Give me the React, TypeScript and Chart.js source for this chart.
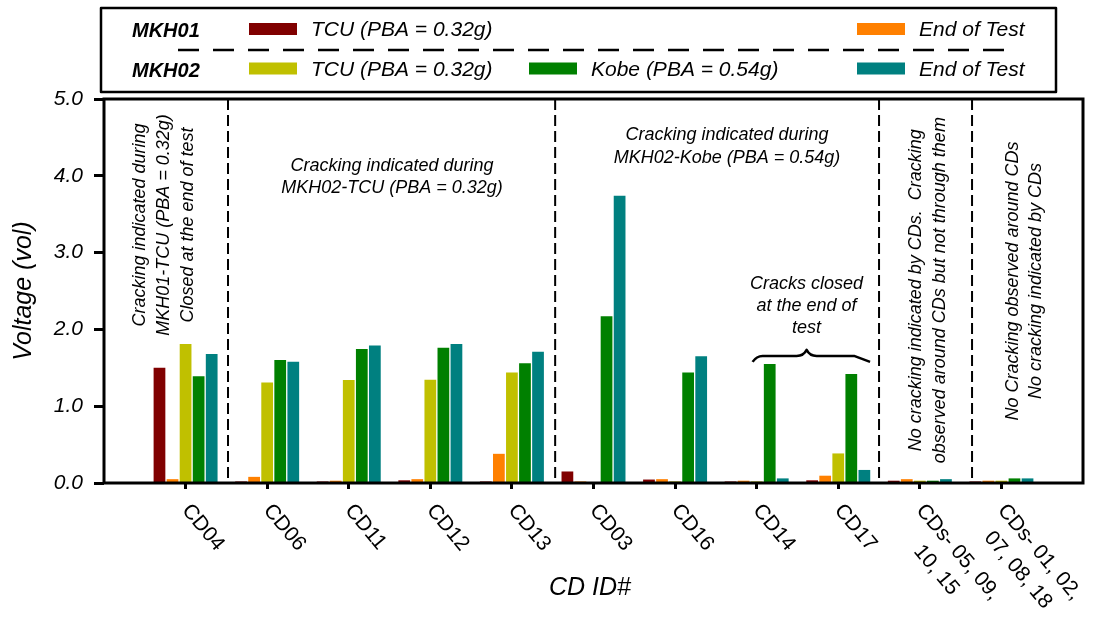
import React, { useEffect, useRef } from "react";
import { Chart, registerables } from "chart.js";

Chart.register(...registerables);

// ---------- data ----------
const categories: (string | string[])[] = [
  "CD04",
  "CD06",
  "CD11",
  "CD12",
  "CD13",
  "CD03",
  "CD16",
  "CD14",
  "CD17",
  ["CDs- 05, 09,", "10, 15"],
  ["CDs- 01, 02,", "07, 08, 18"],
];

const mkh01Tcu = [1.5, 0.02, 0.02, 0.035, 0.02, 0.15, 0.045, 0.02, 0.035, 0.03, 0.02];
const mkh01End = [0.05, 0.08, 0.03, 0.05, 0.38, 0.02, 0.05, 0.03, 0.095, 0.05, 0.03];
const mkh02Tcu = [1.81, 1.31, 1.34, 1.345, 1.44, 0, 0.02, 0.02, 0.385, 0.03, 0.03];
const mkh02Kobe = [1.39, 1.6, 1.745, 1.76, 1.56, 2.17, 1.44, 1.55, 1.42, 0.03, 0.06];
const mkh02End = [1.68, 1.58, 1.79, 1.81, 1.71, 3.74, 1.65, 0.06, 0.17, 0.05, 0.06];

const seriesLabels = [
  "TCU (PBA = 0.32g)",
  "End of Test",
  "TCU (PBA = 0.32g)",
  "Kobe (PBA = 0.54g)",
  "End of Test",
];
const seriesColors = ["#800000", "#FF8000", "#C0C000", "#008000", "#008080"];
const groupLabels = ["MKH01", "MKH02"];

const yMin = 0;
const yMax = 5;
const yStep = 1;

const xTitle = "CD ID#";
const yTitle = "Voltage (vol)";

// ---------- annotations (positions in axis units) ----------
const separators = [1.52, 5.53, 9.5, 10.64];

type Note = { lines: string[]; x: number; y: number; vertical: boolean; spacing: number };
const notes: Note[] = [
  {
    lines: ["Cracking indicated during", "MKH01-TCU (PBA = 0.32g)", "Closed at the end of test"],
    x: 0.735,
    y: 3.36,
    vertical: true,
    spacing: 24,
  },
  { lines: ["Cracking indicated during", "MKH02-TCU (PBA = 0.32g)"], x: 3.53, y: 4.06, vertical: false, spacing: 22 },
  { lines: ["Cracking indicated during", "MKH02-Kobe (PBA = 0.54g)"], x: 7.637, y: 4.47, vertical: false, spacing: 23 },
  { lines: ["Cracks closed", "at the end of", "test"], x: 8.61, y: 2.52, vertical: false, spacing: 21.7 },
  {
    lines: ["No cracking indicated by CDs.  Cracking", "observed around CDs but not through them"],
    x: 10.1,
    y: 2.51,
    vertical: true,
    spacing: 24,
  },
  {
    lines: ["No Cracking observed around CDs", "No cracking indicated by CDs"],
    x: 11.28,
    y: 2.63,
    vertical: true,
    spacing: 23,
  },
];
const brace = { x0: 7.95, x1: 9.39, y: 1.655 };

const FONT = '"Liberation Sans", Arial, Helvetica, sans-serif';

const decorPlugin = {
  id: "decor",
  afterDraw(chart: any) {
    const { ctx, chartArea: a, scales } = chart;
    const xs = scales.x;
    const ys = scales.y;
    ctx.save();
    ctx.strokeStyle = "#000";
    ctx.fillStyle = "#000";

    // dashed separators
    ctx.lineWidth = 2;
    ctx.setLineDash([11, 5]);
    separators.forEach((v) => {
      const px = xs.getPixelForValue(v);
      ctx.beginPath();
      ctx.moveTo(px, a.top);
      ctx.lineTo(px, a.bottom);
      ctx.stroke();
    });
    ctx.setLineDash([]);

    // plot frame
    ctx.lineWidth = 3;
    ctx.strokeRect(a.left, a.top, a.right - a.left, a.bottom - a.top);

    // notes
    ctx.font = `italic 18px ${FONT}`;
    notes.forEach((n) => {
      const px = xs.getPixelForValue(n.x);
      const py = ys.getPixelForValue(n.y);
      if (n.vertical) {
        ctx.save();
        ctx.translate(px, py);
        ctx.rotate(-Math.PI / 2);
        ctx.textAlign = "center";
        ctx.textBaseline = "middle";
        n.lines.forEach((l, k) => {
          ctx.fillText(l, 0, (k - (n.lines.length - 1) / 2) * n.spacing);
        });
        ctx.restore();
      } else {
        ctx.textAlign = "center";
        ctx.textBaseline = "alphabetic";
        n.lines.forEach((l, k) => ctx.fillText(l, px, py + k * n.spacing));
      }
    });

    // brace
    {
      const bx0 = xs.getPixelForValue(brace.x0);
      const bx1 = xs.getPixelForValue(brace.x1);
      const by = ys.getPixelForValue(brace.y);
      const mid = bx0 + 0.46 * (bx1 - bx0);
      ctx.lineWidth = 2.5;
      ctx.lineJoin = "round";
      ctx.beginPath();
      ctx.moveTo(bx0, by + 6);
      ctx.quadraticCurveTo(bx0 + 4, by, bx0 + 10, by);
      ctx.lineTo(mid - 10, by);
      ctx.quadraticCurveTo(mid - 3, by, mid, by - 6);
      ctx.quadraticCurveTo(mid + 3, by, mid + 10, by);
      ctx.lineTo(bx1 - 16, by);
      ctx.lineTo(bx1, by + 6);
      ctx.stroke();
    }

    // x tick labels (rotated clockwise)
    ctx.font = `21px ${FONT}`;
    const ang = (50 * Math.PI) / 180;
    categories.forEach((lab, i) => {
      const px = xs.getPixelForValue(i + 1);
      const lines = Array.isArray(lab) ? lab : [lab];
      ctx.save();
      ctx.translate(px, a.bottom + 24);
      ctx.rotate(ang);
      ctx.textAlign = "left";
      ctx.textBaseline = "middle";
      const W = Math.max(...lines.map((l) => ctx.measureText(l).width));
      lines.forEach((l, k) => {
        const w = ctx.measureText(l).width;
        ctx.fillText(l, (W - w) / 2, k * 28);
      });
      ctx.restore();
    });

    // axis titles
    ctx.font = `italic 25px ${FONT}`;
    ctx.textAlign = "center";
    ctx.textBaseline = "middle";
    ctx.fillText(xTitle, 590, 588);
    ctx.save();
    ctx.translate(24, (a.top + a.bottom) / 2);
    ctx.rotate(-Math.PI / 2);
    ctx.fillText(yTitle, 0, 0);
    ctx.restore();

    // legend
    ctx.lineWidth = 2.5;
    ctx.strokeRect(101, 8, 955, 84);
    ctx.setLineDash([21, 14]);
    ctx.beginPath();
    ctx.moveTo(178, 50);
    ctx.lineTo(1018, 50);
    ctx.stroke();
    ctx.setLineDash([]);

    const rows = [30.5, 70];
    ctx.textAlign = "left";
    ctx.textBaseline = "middle";
    ctx.font = `italic bold 20px ${FONT}`;
    groupLabels.forEach((g, r) => ctx.fillText(g, 132, rows[r] + 1));

    const items = [
      { ds: 0, row: 0, x: 249 },
      { ds: 1, row: 0, x: 857 },
      { ds: 2, row: 1, x: 249 },
      { ds: 3, row: 1, x: 529 },
      { ds: 4, row: 1, x: 857 },
    ];
    ctx.font = `italic 21px ${FONT}`;
    items.forEach((it) => {
      const d = chart.data.datasets[it.ds];
      const y = rows[it.row];
      ctx.fillStyle = d.backgroundColor;
      ctx.fillRect(it.x, y - 7.5, 48, 12);
      ctx.fillStyle = "#000";
      ctx.fillText(d.label, it.x + 62, y);
    });

    ctx.restore();
  },
};

export default function App() {
  const ref = useRef<HTMLCanvasElement>(null);

  useEffect(() => {
    const pad = (arr: number[]) => [null, ...arr, null];
    const labels = ["", ...categories.map((c) => (Array.isArray(c) ? c.join(" ") : c)), ""];
    const series = [mkh01Tcu, mkh01End, mkh02Tcu, mkh02Kobe, mkh02End];
    const chart = new Chart(ref.current as HTMLCanvasElement, {
      type: "bar",
      data: {
        labels,
        datasets: series.map((s, i) => ({
          label: seriesLabels[i],
          data: pad(s) as any,
          backgroundColor: seriesColors[i],
          borderWidth: 0,
          categoryPercentage: 0.8,
          barPercentage: 0.9,
        })),
      },
      options: {
        responsive: false,
        animation: false,
        events: [],
        layout: { padding: { top: 99, right: 21, bottom: 0, left: 0 } },
        plugins: {
          legend: { display: false },
          tooltip: { enabled: false },
          title: { display: false },
        },
        scales: {
          x: {
            type: "category",
            offset: false,
            border: { display: false },
            grid: {
              display: true,
              offset: false,
              drawOnChartArea: false,
              drawTicks: true,
              tickLength: 6,
              tickWidth: 3,
              tickColor: (c: any) => (c.index === 0 || c.index === labels.length - 1 ? "rgba(0,0,0,0)" : "#000"),
            },
            ticks: { display: false },
            afterFit: (s: any) => {
              s.height = 134;
            },
          },
          y: {
            min: yMin,
            max: yMax,
            border: { display: false },
            grid: {
              display: true,
              drawOnChartArea: false,
              drawTicks: true,
              tickLength: 10,
              tickWidth: 3,
              tickColor: "#000",
            },
            ticks: {
              stepSize: yStep,
              color: "#000",
              padding: 11,
              font: { family: FONT, size: 21, style: "italic" },
              callback: (v: any) => Number(v).toFixed(1),
            },
            afterFit: (s: any) => {
              s.width = 104;
            },
          },
        },
      },
      plugins: [decorPlugin],
    });
    return () => chart.destroy();
  }, []);

  return (
    <div style={{ position: "absolute", left: 0, top: 0, width: 1104, height: 617, background: "#fff" }}>
      <canvas ref={ref} width={1104} height={617} style={{ display: "block", width: 1104, height: 617 }} />
    </div>
  );
}
